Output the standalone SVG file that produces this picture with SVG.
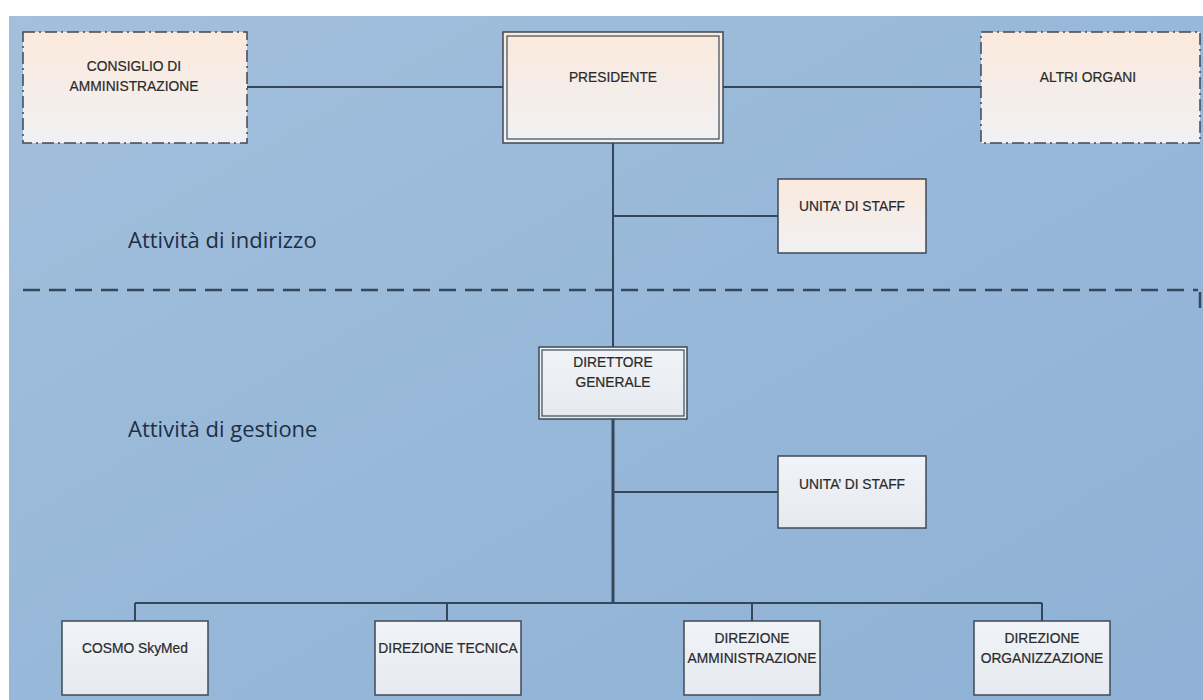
<svg xmlns="http://www.w3.org/2000/svg" width="1203" height="700" viewBox="0 0 1203 700">
<defs>
<linearGradient id="bg" x1="0" y1="0" x2="1" y2="1">
<stop offset="0" stop-color="#a2bfdc"/>
<stop offset="0.5" stop-color="#98b8d9"/>
<stop offset="1" stop-color="#8eb1d5"/>
</linearGradient>
<linearGradient id="peach" x1="0" y1="0" x2="0" y2="1">
<stop offset="0" stop-color="#fbe9dc"/>
<stop offset="1" stop-color="#f0f1f4"/>
</linearGradient>
<linearGradient id="grey" x1="0" y1="0" x2="0" y2="1">
<stop offset="0" stop-color="#f0f3f7"/>
<stop offset="1" stop-color="#e6eaf0"/>
</linearGradient>
<style>
.box{stroke:#3e4a57;stroke-width:1.5}
.dash{stroke:#3e4a57;stroke-width:1.5;stroke-dasharray:12 4 2 4}
.pe{fill:url(#peach)}
.gr{fill:url(#grey)}
.inner{fill:none;stroke:#3e4a57;stroke-width:1.2}
.t{font-family:"Liberation Sans","Open Sans",sans-serif;font-size:13.8px;fill:#2a2a2a;text-anchor:middle;stroke:#2a2a2a;stroke-width:0.2}
.lbl{font-family:"Open Sans","Liberation Sans",sans-serif;font-size:22px;fill:#1f2f45}
.con{stroke:#34475b;stroke-width:2;fill:none}
.thick{stroke:#34475b;stroke-width:3;fill:none}
</style>
</defs>
<rect width="1203" height="700" fill="#ffffff"/>
<rect x="9" y="16" width="1194" height="684" fill="url(#bg)"/>

<g id="separator">
<line x1="23" y1="290" x2="1198" y2="290" stroke="#34475b" stroke-width="2.5" stroke-dasharray="17 9"/>
<line x1="1200" y1="292" x2="1200" y2="308" stroke="#34475b" stroke-width="2.5"/>
</g>

<text class="lbl" x="128" y="248">Attività di indirizzo</text>
<text class="lbl" x="128" y="437">Attività di gestione</text>

<g id="connectors">
<line class="con" x1="247" y1="87" x2="503" y2="87"/>
<line class="con" x1="723" y1="87" x2="981" y2="87"/>
<line class="con" x1="613" y1="143" x2="613" y2="347"/>
<line class="con" x1="613" y1="216" x2="778" y2="216"/>
<line class="thick" x1="613" y1="419" x2="613" y2="603"/>
<line class="con" x1="613" y1="492" x2="778" y2="492"/>
<line class="con" x1="135" y1="603" x2="1042" y2="603"/>
<line class="con" x1="135" y1="603" x2="135" y2="621"/>
<line class="con" x1="447" y1="603" x2="447" y2="621"/>
<line class="con" x1="752" y1="603" x2="752" y2="621"/>
<line class="con" x1="1042" y1="603" x2="1042" y2="621"/>
</g>

<g id="consiglio">
<rect class="pe dash" x="23" y="32" width="224" height="111"/>
<text class="t" x="134" y="71">CONSIGLIO DI</text>
<text class="t" x="134" y="91">AMMINISTRAZIONE</text>
</g>

<g id="presidente">
<rect class="pe box" x="503" y="32" width="220" height="111"/>
<rect class="inner" x="507" y="36" width="212" height="103"/>
<text class="t" x="613" y="82">PRESIDENTE</text>
</g>

<g id="altri-organi">
<rect class="pe dash" x="981" y="32" width="219" height="111"/>
<text class="t" x="1088" y="82">ALTRI ORGANI</text>
</g>

<g id="staff-1">
<rect class="pe box" x="778" y="179" width="148" height="74"/>
<text class="t" x="852" y="211">UNITA’ DI STAFF</text>
</g>

<g id="direttore">
<rect class="gr box" x="539" y="347" width="148" height="72"/>
<rect class="inner" x="542" y="350" width="142" height="66"/>
<text class="t" x="613" y="367">DIRETTORE</text>
<text class="t" x="613" y="387">GENERALE</text>
</g>

<g id="staff-2">
<rect class="gr box" x="778" y="456" width="148" height="72"/>
<text class="t" x="852" y="489">UNITA’ DI STAFF</text>
</g>

<g id="cosmo">
<rect class="gr box" x="62" y="621" width="146" height="74"/>
<text class="t" x="135" y="653">COSMO SkyMed</text>
</g>

<g id="dir-tecnica">
<rect class="gr box" x="375" y="621" width="146" height="74"/>
<text class="t" x="448" y="653">DIREZIONE TECNICA</text>
</g>

<g id="dir-amm">
<rect class="gr box" x="684" y="621" width="136" height="74"/>
<text class="t" x="752" y="643">DIREZIONE</text>
<text class="t" x="752" y="663">AMMINISTRAZIONE</text>
</g>

<g id="dir-org">
<rect class="gr box" x="974" y="621" width="136" height="74"/>
<text class="t" x="1042" y="643">DIREZIONE</text>
<text class="t" x="1042" y="663">ORGANIZZAZIONE</text>
</g>
</svg>
